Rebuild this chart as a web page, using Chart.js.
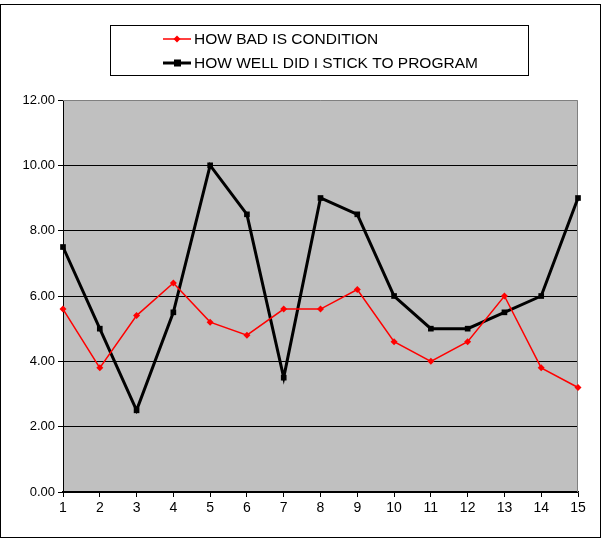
<!DOCTYPE html>
<html>
<head>
<meta charset="utf-8">
<script src="https://cdn.jsdelivr.net/npm/chart.js@4"></script>
<style>
  html, body { margin: 0; padding: 0; background: #ffffff; }
  #wrap { position: relative; width: 605px; height: 540px; }
</style>
</head>
<body>
<div id="wrap"><canvas id="chart" width="605" height="540"></canvas></div>
<script>
// chart data
var days = ["1", "2", "3", "4", "5", "6", "7", "8", "9", "10", "11", "12", "13", "14", "15"];
var howBad = [5.6, 3.8, 5.4, 6.4, 5.2, 4.8, 5.6, 5.6, 6.2, 4.6, 4.0, 4.6, 6.0, 3.8, 3.2];
var howWell = [7.5, 5.0, 2.5, 5.5, 10.0, 8.5, 3.5, 9.0, 8.5, 6.0, 5.0, 5.0, 5.5, 6.0, 9.0];
var yTicks = [0, 2, 4, 6, 8, 10, 12];

var FONT = "'Liberation Sans', Arial, sans-serif";

// frame, grey plot area and boxed legend, Excel style
var excelLook = {
  id: "excelLook",
  beforeDraw: function (chart) {
    var c = chart.ctx;
    var a = chart.chartArea;
    c.save();
    c.fillStyle = "#ffffff";
    c.fillRect(0, 0, chart.width, chart.height);
    c.strokeStyle = "#000000";
    c.lineWidth = 1;
    c.strokeRect(0.5, 4.5, 600, 533);
    c.fillStyle = "#c0c0c0";
    c.fillRect(a.left, a.top, a.right - a.left, a.bottom - a.top);
    c.restore();
  },
  beforeDatasetsDraw: function (chart) {
    var c = chart.ctx;
    var a = chart.chartArea;
    c.save();
    c.strokeStyle = "#808080";
    c.lineWidth = 1;
    c.beginPath();
    c.moveTo(a.left, a.top + 0.5);
    c.lineTo(a.right - 0.5, a.top + 0.5);
    c.lineTo(a.right - 0.5, a.bottom);
    c.stroke();
    c.restore();
  },
  afterDraw: function (chart) {
    var c = chart.ctx;
    c.save();
    c.strokeStyle = "#000000";
    c.lineWidth = 1;
    c.strokeRect(110.5, 25.5, 418, 50);
    c.font = "15.5px " + FONT;
    c.textBaseline = "middle";
    c.fillStyle = "#000000";
    chart.data.datasets.forEach(function (ds, i) {
      var y = 39 + i * 24;
      c.strokeStyle = ds.borderColor;
      c.lineWidth = ds.borderWidth;
      c.beginPath();
      c.moveTo(163, y);
      c.lineTo(191, y);
      c.stroke();
      c.fillStyle = ds.borderColor;
      if (ds.pointStyle === "rect") {
        c.fillRect(174, y - 3.5, 7, 7);
      } else {
        c.beginPath();
        c.moveTo(177, y - 3.5);
        c.lineTo(180.5, y);
        c.lineTo(177, y + 3.5);
        c.lineTo(173.5, y);
        c.closePath();
        c.fill();
      }
      c.fillStyle = "#000000";
      c.fillText(ds.label, 194, y + 1);
    });
    c.restore();
  }
};

new Chart(document.getElementById("chart"), {
  type: "line",
  data: {
    labels: days,
    datasets: [
      {
        label: "HOW BAD IS CONDITION",
        data: howBad,
        borderColor: "#ff0000",
        backgroundColor: "#ff0000",
        borderWidth: 1.5,
        pointStyle: "rectRot",
        pointRadius: 3.5,
        pointBorderWidth: 0,
        tension: 0
      },
      {
        label: "HOW WELL DID I STICK TO PROGRAM",
        data: howWell,
        borderColor: "#000000",
        backgroundColor: "#000000",
        borderWidth: 3,
        pointStyle: "rect",
        pointRadius: 4,
        pointBorderWidth: 0,
        tension: 0
      }
    ]
  },
  options: {
    responsive: false,
    animation: false,
    layout: { padding: { left: 0, right: 27, top: 100, bottom: 0 } },
    plugins: {
      legend: { display: false },
      tooltip: { enabled: false }
    },
    scales: {
      x: {
        offset: false,
        afterFit: function (s) { s.height = 48; },
        grid: {
          drawOnChartArea: false,
          drawTicks: true,
          tickLength: 5,
          color: "#000000"
        },
        border: { color: "#000000", width: 1.5 },
        ticks: {
          color: "#000000",
          font: { family: FONT, size: 14 },
          padding: 3,
          maxRotation: 0,
          autoSkip: false
        }
      },
      y: {
        min: 0,
        max: 12,
        afterFit: function (s) { s.width = 63; },
        afterBuildTicks: function (s) {
          s.ticks = yTicks.map(function (v) { return { value: v }; });
        },
        grid: {
          color: function (ctx) {
            return ctx.tick && ctx.tick.value === 12 ? "rgba(0,0,0,0)" : "#000000";
          },
          tickColor: "#000000",
          tickLength: 5,
          lineWidth: 1
        },
        border: { color: "#000000", width: 1 },
        ticks: {
          color: "#000000",
          font: { family: FONT, size: 13 },
          padding: 3,
          callback: function (v) { return Number(v).toFixed(2); }
        }
      }
    }
  },
  plugins: [excelLook]
});
</script>
</body>
</html>
